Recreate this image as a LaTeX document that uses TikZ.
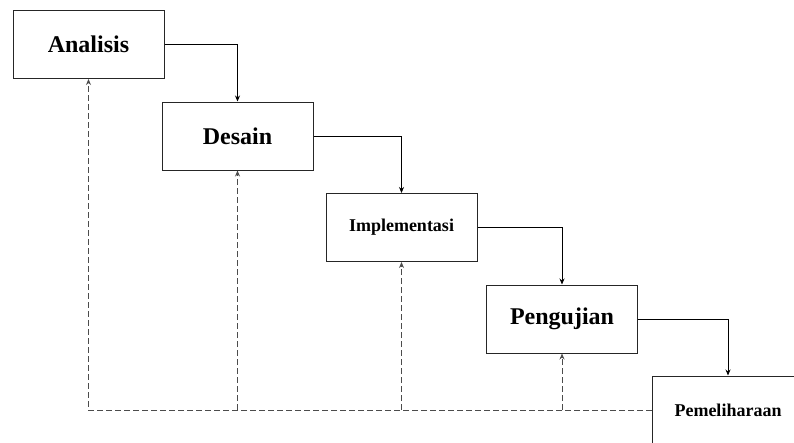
\documentclass[tikz,border=0pt]{standalone}
\usepackage{fontspec}
\setmainfont{Liberation Serif}
\usetikzlibrary{arrows.meta}
\tikzset{
  tahap/.style={draw=black!85, line width=1pt, minimum width=151pt, minimum height=68pt, font=\bfseries\fontsize{24}{28}\selectfont},
  kecil/.style={font=\bfseries\fontsize{18}{22}\selectfont},
  alur/.style={-{Stealth[length=6pt,width=5pt]}, line width=0.8pt},
  balik/.style={-{Stealth[length=6pt,width=5pt]}, line width=1pt, black!70, dash pattern=on 6pt off 3pt}
}

\begin{document}
\begin{tikzpicture}[x=1pt,y=-1pt]
\useasboundingbox (0,0) rectangle (794,442);
%\draw[help lines,step=50] (0,0) grid (794,442);
\node[tahap] (ana) at (88.5, 44.5) {Analisis};
\node[tahap] (des) at (237.5, 136) {Desain};
\node[tahap, kecil] (imp) at (401.5, 227.5) {Implementasi};
\node[tahap] (uji) at (562, 319) {Pengujian};
\node[tahap, kecil] (pem) at (728, 410) {Pemeliharaan};

\draw [alur] (ana.east) -| (des.north);
\draw [alur] (des.east) -| (imp.north);
\draw [alur] (imp.east) -| (uji.north);
\draw [alur] (uji.east) -| (pem.north);

\draw [balik] (pem.west) -| (ana.south);
\draw [balik] (des.south |- pem.west) -- (des.south);
\draw [balik] (imp.south |- pem.west) -- (imp.south);
\draw [balik] (uji.south |- pem.west) -- (uji.south);
\end{tikzpicture}
\end{document}
